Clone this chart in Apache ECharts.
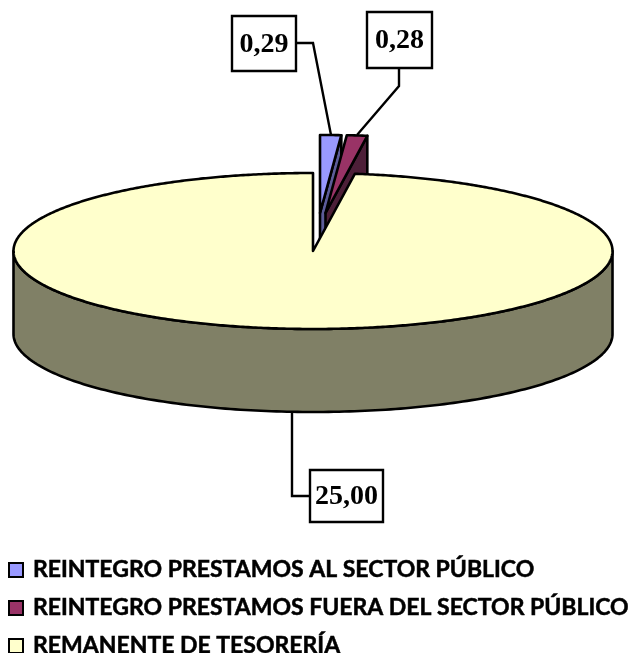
<!DOCTYPE html>
<html>
<head>
<meta charset="utf-8">
<style>
  html, body { margin: 0; padding: 0; background: #fff; }
  #main { width: 628px; height: 653px; }
</style>
<script src="https://cdn.jsdelivr.net/npm/echarts@6/dist/echarts.min.js"></script>
</head>
<body>
<div id="main"></div>
<script>
const categories = [
  'REINTEGRO PRESTAMOS AL SECTOR PÚBLICO',
  'REINTEGRO PRESTAMOS FUERA DEL SECTOR PÚBLICO',
  'REMANENTE DE TESORERÍA'
]
const values = [0.29, 0.28, 25.0]

const topColors = ['#9999ff', '#993366', '#ffffcc']
const wallColors = ['#5c5c99', '#4d1f38', '#808066']

// 3d pie layout
const cx = 313
const cy = 251
const rx = 299.5
const ry = 78
const depth = 83
const shifts = [[7, -38], [12.5, -38], [0, 0]]

// value label boxes: x, y, w, h and the leader line
const labelBoxes = [
  {x: 232, y: 16, w: 64, h: 55, line: [[296, 43], [313, 43], [331, 135]]},
  {x: 367, y: 12, w: 65, h: 56, line: [[399, 68], [399, 86], [357, 135]]},
  {x: 310, y: 470, w: 73, h: 52, line: [[310, 496], [292, 496], [292, 412]]}
]

const total = values.reduce((a, b) => a + b, 0)
const rad = Math.PI / 180

function angleRange(index) {
  let start = 0
  for (let i = 0; i < index; i++) start += values[i] / total * 360
  return [start, start + values[index] / total * 360]
}

function rimPoint(ox, oy, deg, drop) {
  return [ox + rx * Math.sin(deg * rad), oy - ry * Math.cos(deg * rad) + drop]
}

function renderSlice(index) {
  return function () {
    const [start, end] = angleRange(index)
    const ox = cx + shifts[index][0]
    const oy = cy + shifts[index][1]
    const stroke = {stroke: '#000', lineWidth: 2.6, lineJoin: 'round'}
    const children = []

    // outer wall, only the part facing the viewer
    const from = Math.max(start, 90)
    const to = Math.min(end, 270)
    if (to > from) {
      const upper = []
      const lower = []
      for (let a = from; a <= to; a += 1) {
        upper.push(rimPoint(ox, oy, a, 0))
        lower.unshift(rimPoint(ox, oy, a, depth))
      }
      children.push({
        type: 'polygon',
        shape: {points: upper.concat(lower)},
        style: {fill: wallColors[index], ...stroke}
      })
    }

    // cut face at the end of the slice
    if (end > 0 && end < 180) {
      const p = rimPoint(ox, oy, end, 0)
      children.push({
        type: 'polygon',
        shape: {points: [p, [ox, oy], [ox, oy + depth], [p[0], p[1] + depth]]},
        style: {fill: wallColors[index], ...stroke}
      })
    }

    // top face
    const top = [[ox, oy]]
    for (let a = start; a < end; a += 0.5) top.push(rimPoint(ox, oy, a, 0))
    top.push(rimPoint(ox, oy, end, 0))
    children.push({
      type: 'polygon',
      shape: {points: top},
      style: {fill: topColors[index], ...stroke}
    })

    // label with leader
    const box = labelBoxes[index]
    children.push({
      type: 'polyline',
      shape: {points: box.line},
      style: {fill: null, stroke: '#000', lineWidth: 2.4}
    })
    children.push({
      type: 'rect',
      shape: {x: box.x, y: box.y, width: box.w, height: box.h},
      style: {fill: '#fff', stroke: '#000', lineWidth: 2.4}
    })
    children.push({
      type: 'text',
      style: {
        text: values[index].toFixed(2).replace('.', ','),
        x: box.x + box.w / 2,
        y: box.y + box.h / 2 + 1,
        align: 'center',
        verticalAlign: 'middle',
        font: 'bold 28px "Liberation Serif"',
        fill: '#000'
      }
    })

    return {type: 'group', children}
  }
}

const myChart = echarts.init(document.getElementById('main'))

myChart.setOption({
  animation: false,
  backgroundColor: '#fff',
  legend: {
    orient: 'vertical',
    left: 8,
    top: 558,
    height: 110,
    padding: 0,
    itemWidth: 14,
    itemHeight: 14,
    itemGap: 14,
    icon: 'rect',
    selectedMode: false,
    itemStyle: {borderColor: '#000', borderWidth: 2},
    textStyle: {
      fontFamily: 'Lato',
      fontWeight: 'bold',
      fontSize: 23,
      lineHeight: 24,
      color: '#000',
      textBorderColor: '#000',
      textBorderWidth: 0.5,
      padding: [0, 0, 0, 5]
    },
    data: categories
  },
  series: categories.map((name, i) => ({
    type: 'custom',
    name,
    coordinateSystem: 'none',
    itemStyle: {color: topColors[i]},
    renderItem: renderSlice(i),
    data: [[values[i]]]
  }))
})

window.addEventListener('resize', () => myChart.resize())
</script>
</body>
</html>
